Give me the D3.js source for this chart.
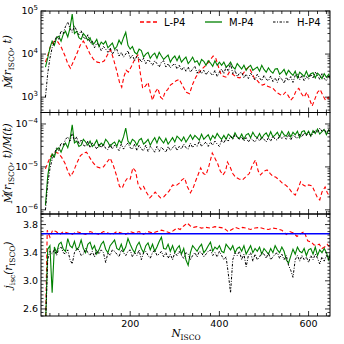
<!DOCTYPE html>
<html>
<head>
<meta charset="utf-8">
<script src="https://cdn.jsdelivr.net/npm/d3@7"></script>
<style>
  html, body { margin: 0; padding: 0; background: #fff; }
  svg { display: block; }
  .tick-label { font-family: 'DejaVu Sans', sans-serif; font-size: 9.5px; fill: #000; }
  .axis-label { font-family: 'DejaVu Serif', serif; font-style: italic; font-size: 10.5px; fill: #000; }
  .legend-label { font-family: 'DejaVu Sans', sans-serif; font-size: 10px; fill: #000; }
</style>
</head>
<body>
<svg id="chart" width="344" height="344"></svg>
<script>
(function() {
    'use strict';

    // sampling grid (N_ISCO) shared by the M-P4 and H-P4 runs
    var nGrid = d3.range(10, 651, 5);

    var mdotM = [5e3, 8e3, 1.4e4, 2.0e4, 1.6e4, 2.4e4, 2.6e4, 2.0e4, 2.9e4, 3.4e4, 2.5e4, 4.0e4, 8.5e4, 3.0e4, 3.4e4, 2.4e4, 2.2e4, 3.0e4, 2.6e4, 2.1e4,
        2.4e4, 1.7e4, 1.8e4, 2.2e4, 1.5e4, 1.9e4, 1.7e4, 2.0e4, 1.4e4, 1.6e4, 1.8e4, 1.3e4, 1.5e4, 2.1e4, 1.7e4, 2.4e4, 3.2e4, 1.6e4, 1.3e4, 1.5e4,
        1.1e4, 1.0e4, 1.3e4, 1.2e4, 8.5e3, 1.0e4, 1.1e4, 8.0e3, 9.5e3, 1.05e4, 8.0e3, 1.1e4, 9.0e3, 7.5e3, 8.5e3, 9.5e3, 6.5e3, 8.0e3, 9.0e3, 7.0e3,
        9.0e3, 6.5e3, 7.5e3, 8.5e3, 6.0e3, 7.0e3, 8.5e3, 6.5e3, 7.0e3, 5.5e3, 7.5e3, 6.8e3, 5.5e3, 7.0e3, 6.2e3, 5.2e3, 7.0e3, 5.5e3, 6.5e3, 5.5e3,
        6.5e3, 5.0e3, 5.5e3, 6.5e3, 5.0e3, 4.5e3, 6.0e3, 5.2e3, 4.5e3, 5.5e3, 4.2e3, 5.0e3, 5.5e3, 4.2e3, 4.6e3, 5.0e3, 4.0e3, 5.5e3, 4.4e3, 3.8e3,
        4.8e3, 4.0e3, 3.6e3, 4.5e3, 4.6e3, 3.4e3, 3.8e3, 4.4e3, 3.3e3, 4.2e3, 3.6e3, 3.2e3, 4.0e3, 2.8e3, 3.8e3, 3.4e3, 3.0e3, 4.0e3, 3.0e3, 3.5e3,
        3.7e3, 2.8e3, 3.6e3, 3.2e3, 2.7e3, 3.5e3, 2.9e3, 3.4e3, 2.5e3];

    var mdotH = [1.0e3, 3.5e3, 8e3, 1.4e4, 1.9e4, 2.6e4, 2.2e4, 3.5e4, 3.0e4, 4.4e4, 5.5e4, 4.0e4, 3.2e4, 4.5e4, 3.5e4, 2.8e4, 3.5e4, 2.5e4, 2.2e4, 2.8e4,
        1.8e4, 2.0e4, 1.4e4, 1.8e4, 1.6e4, 1.2e4, 1.5e4, 1.3e4, 1.1e4, 1.4e4, 1.0e4, 1.2e4, 1.3e4, 9.0e3, 1.1e4, 8.5e3, 1.0e4, 1.2e4, 8.0e3, 9.5e3,
        7.0e3, 9.0e3, 8.0e3, 6.5e3, 8.0e3, 6.0e3, 7.5e3, 6.5e3, 5.5e3, 7.0e3, 6.0e3, 5.0e3, 6.5e3, 7.0e3, 5.0e3, 6.0e3, 4.8e3, 5.5e3, 6.0e3, 4.5e3,
        5.5e3, 4.2e3, 5.0e3, 4.0e3, 5.0e3, 3.8e3, 4.5e3, 5.2e3, 3.6e3, 4.4e3, 3.5e3, 4.2e3, 3.3e3, 4.0e3, 3.6e3, 3.2e3, 4.2e3, 3.0e3, 3.8e3, 4.5e3,
        3.5e3, 5.0e3, 4.0e3, 6.0e3, 3.5e3, 4.2e3, 3.0e3, 3.6e3, 3.8e3, 2.8e3, 3.4e3, 2.7e3, 3.6e3, 3.0e3, 2.5e3, 3.4e3, 2.8e3, 2.4e3, 3.2e3, 2.6e3,
        2.4e3, 3.1e3, 2.3e3, 2.8e3, 2.2e3, 3.0e3, 2.6e3, 2.1e3, 2.9e3, 2.4e3, 3.0e3, 2.2e3, 3.2e3, 3.4e3, 2.5e3, 3.2e3, 2.4e3, 3.0e3, 2.6e3, 3.4e3,
        2.8e3, 3.8e3, 3.2e3, 2.6e3, 3.5e3, 2.7e3, 2.4e3, 3.1e3, 2.4e3];

    var mdotLN = [10, 16, 22, 30, 38, 46, 54, 60, 66, 72, 80, 88, 95, 102, 110, 118, 126, 134, 142, 150, 156, 162, 170, 176, 181, 186, 191, 196, 202, 210,
        217, 222, 228, 234, 240, 245, 250, 256, 262, 268, 273, 278, 284, 290, 296, 303, 310, 318, 326, 333, 340, 347, 355, 362, 370, 378, 386, 392, 398, 404,
        410, 416, 422, 430, 438, 446, 454, 460, 466, 472, 478, 484, 490, 496, 502, 508, 514, 520, 528, 536, 542, 548, 554, 560, 566, 572, 578, 584, 590, 596,
        602, 608, 614, 620, 626, 632, 638, 644, 648];
    var mdotL = [6.5e3, 1.0e4, 1.6e4, 2.0e4, 1.9e4, 1.4e4, 9e3, 6e3, 4.7e3, 6.5e3, 1.0e4, 1.6e4, 2.0e4, 1.5e4, 1.0e4, 7.5e3, 6.5e3, 6.2e3, 7e3, 1.0e4,
        1.25e4, 8e3, 4.0e3, 2.2e3, 1.7e3, 3.0e3, 4.2e3, 3.8e3, 5.0e3, 7.5e3, 9.5e3, 4.0e3, 1.6e3, 1.8e3, 2.2e3, 1.3e3, 850, 1.3e3, 1.6e3, 1.0e3,
        900, 1.3e3, 1.5e3, 1.9e3, 2.1e3, 2.4e3, 2.6e3, 1.8e3, 1.3e3, 1.2e3, 2.0e3, 2.9e3, 3.8e3, 4.6e3, 5.5e3, 7.0e3, 9.0e3, 8.0e3, 5.0e3, 3.3e3,
        3.0e3, 2.9e3, 3.8e3, 3.4e3, 2.9e3, 2.8e3, 3.6e3, 4.5e3, 5.0e3, 3.8e3, 2.8e3, 2.5e3, 2.1e3, 1.9e3, 2.0e3, 1.8e3, 1.7e3, 1.6e3, 1.3e3, 1.15e3,
        1.1e3, 1.3e3, 1.1e3, 850, 1.0e3, 1.4e3, 1.6e3, 1.2e3, 1.0e3, 1.3e3, 900, 620, 900, 1.3e3, 1.5e3, 1.1e3, 850, 1.0e3, 800];

    var ratioM = [1.3e-6, 6e-6, 1.3e-5, 2.0e-5, 1.7e-5, 2.6e-5, 2.8e-5, 2.2e-5, 3.0e-5, 3.6e-5, 2.8e-5, 4.4e-5, 9.5e-5, 3.6e-5, 4.0e-5, 3.0e-5, 3.2e-5, 4.4e-5, 3.8e-5, 3.2e-5,
        4.0e-5, 3.0e-5, 3.4e-5, 4.2e-5, 3.0e-5, 3.6e-5, 3.2e-5, 4.4e-5, 3.8e-5, 3.0e-5, 3.5e-5, 3.8e-5, 3.0e-5, 4.2e-5, 3.6e-5, 5.0e-5, 8.0e-5, 4.0e-5, 3.4e-5, 4.4e-5,
        4.0e-5, 3.2e-5, 4.2e-5, 4.6e-5, 3.4e-5, 3.8e-5, 4.4e-5, 3.2e-5, 4.0e-5, 4.8e-5, 3.6e-5, 5.0e-5, 4.2e-5, 3.6e-5, 4.6e-5, 3.4e-5, 4.0e-5, 4.8e-5, 3.8e-5, 5.2e-5,
        4.6e-5, 4.0e-5, 5.0e-5, 3.8e-5, 4.6e-5, 5.6e-5, 4.4e-5, 5.4e-5, 4.8e-5, 4.2e-5, 5.8e-5, 4.4e-5, 5.0e-5, 5.6e-5, 4.2e-5, 5.4e-5, 4.6e-5, 6.0e-5, 5.0e-5, 4.4e-5,
        5.4e-5, 4.4e-5, 5.8e-5, 5.2e-5, 4.6e-5, 6.2e-5, 5.0e-5, 4.6e-5, 5.8e-5, 4.4e-5, 5.6e-5, 6.0e-5, 4.8e-5, 6.4e-5, 5.2e-5, 4.8e-5, 6.0e-5, 4.6e-5, 5.6e-5, 6.2e-5,
        5.0e-5, 6.6e-5, 5.0e-5, 5.6e-5, 6.4e-5, 5.0e-5, 6.8e-5, 5.6e-5, 5.2e-5, 6.6e-5, 5.0e-5, 6.4e-5, 5.6e-5, 6.8e-5, 4.8e-5, 6.6e-5, 7.0e-5, 5.6e-5, 6.8e-5, 5.2e-5,
        7.0e-5, 6.0e-5, 7.6e-5, 5.8e-5, 6.6e-5, 7.4e-5, 5.6e-5, 7.2e-5, 6.4e-5];

    var ratioH = [1.0e-6, 4e-6, 9e-6, 1.5e-5, 2.0e-5, 2.8e-5, 2.4e-5, 3.6e-5, 3.2e-5, 4.4e-5, 5.0e-5, 4.0e-5, 6.0e-5, 4.0e-5, 5.0e-5, 3.4e-5, 4.2e-5, 3.2e-5, 3.0e-5, 4.0e-5,
        2.8e-5, 3.6e-5, 3.2e-5, 2.6e-5, 3.4e-5, 2.8e-5, 3.4e-5, 2.7e-5, 2.5e-5, 3.4e-5, 2.6e-5, 3.2e-5, 2.8e-5, 2.4e-5, 3.4e-5, 2.6e-5, 3.2e-5, 3.6e-5, 2.8e-5, 2.6e-5,
        3.4e-5, 2.4e-5, 3.2e-5, 2.6e-5, 2.4e-5, 3.2e-5, 2.3e-5, 3.0e-5, 2.6e-5, 2.2e-5, 3.0e-5, 2.3e-5, 2.9e-5, 2.5e-5, 2.2e-5, 3.0e-5, 2.4e-5, 2.8e-5, 3.2e-5, 2.4e-5,
        3.0e-5, 2.6e-5, 3.4e-5, 2.8e-5, 2.6e-5, 3.6e-5, 2.8e-5, 3.4e-5, 3.0e-5, 4.0e-5, 3.0e-5, 3.4e-5, 3.8e-5, 3.0e-5, 3.8e-5, 3.2e-5, 4.0e-5, 3.4e-5, 3.0e-5, 4.2e-5,
        3.6e-5, 4.6e-5, 4.0e-5, 5.2e-5, 4.4e-5, 5.6e-5, 4.8e-5, 4.4e-5, 5.0e-5, 4.0e-5, 4.8e-5, 3.8e-5, 4.6e-5, 4.2e-5, 3.8e-5, 4.8e-5, 4.0e-5, 5.0e-5, 4.4e-5, 3.8e-5,
        4.8e-5, 4.0e-5, 5.2e-5, 4.4e-5, 4.2e-5, 5.4e-5, 4.6e-5, 5.2e-5, 4.4e-5, 5.6e-5, 4.2e-5, 5.4e-5, 5.0e-5, 4.6e-5, 5.8e-5, 5.0e-5, 6.2e-5, 5.4e-5, 6.4e-5, 5.2e-5,
        6.0e-5, 7.2e-5, 6.4e-5, 8.0e-5, 6.8e-5, 7.6e-5, 6.2e-5, 7.4e-5, 6.6e-5];

    var ratioLN = [10, 16, 22, 30, 38, 46, 54, 60, 66, 72, 80, 88, 95, 102, 110, 118, 126, 132, 140, 148, 155, 162, 170, 176, 182, 188, 194, 200, 206, 212,
        218, 224, 230, 236, 244, 250, 256, 262, 268, 275, 282, 288, 295, 302, 310, 316, 322, 328, 335, 341, 346, 352, 358, 364, 370, 376, 384, 390, 396, 402,
        408, 414, 418, 424, 430, 436, 444, 452, 460, 467, 474, 481, 487, 492, 500, 507, 514, 520, 526, 534, 541, 548, 556, 562, 570, 576, 582, 588, 594, 600,
        608, 614, 620, 625, 630, 637, 642, 648];
    var ratioL = [9e-6, 1.3e-5, 1.8e-5, 2.2e-5, 2.1e-5, 1.7e-5, 1.2e-5, 8e-6, 6.0e-6, 7.5e-6, 1.2e-5, 1.8e-5, 2.1e-5, 2.2e-5, 1.6e-5, 1.2e-5, 1.0e-5, 9.5e-6, 1.0e-5, 1.3e-5,
        1.6e-5, 1.1e-5, 6e-6, 3.5e-6, 3.2e-6, 4.5e-6, 5.5e-6, 5.2e-6, 9.5e-6, 8e-6, 3.8e-6, 3.0e-6, 3.5e-6, 2.6e-6, 1.9e-6, 2.2e-6, 2.6e-6, 2.2e-6, 1.9e-6, 2.0e-6,
        2.4e-6, 2.8e-6, 3.8e-6, 3.6e-6, 4.2e-6, 5.0e-6, 5.5e-6, 3.5e-6, 2.5e-6, 3.2e-6, 4.5e-6, 6.5e-6, 9.5e-6, 7.0e-6, 6.5e-6, 1.0e-5, 2.1e-5, 1.6e-5, 1.2e-5, 8e-6,
        6.5e-6, 8e-6, 1.3e-5, 1.0e-5, 7e-6, 5.8e-6, 5.2e-6, 5.0e-6, 6.0e-6, 7e-6, 1.1e-5, 1.45e-5, 8e-6, 6.5e-6, 8e-6, 8.5e-6, 7e-6, 6e-6, 5.8e-6, 5e-6,
        4.2e-6, 3.8e-6, 3.2e-6, 2.6e-6, 2.2e-6, 3.0e-6, 4.5e-6, 3.8e-6, 3.5e-6, 3.8e-6, 3.6e-6, 2.6e-6, 1.9e-6, 1.7e-6, 2.6e-6, 3.4e-6, 2.5e-6, 2.0e-6];

    var jM = [2.3, 3.45, 3.50, 2.83, 3.48, 3.40, 3.52, 3.55, 3.45, 3.42, 3.60, 3.50, 3.47, 3.56, 3.44, 3.48, 3.58, 3.46, 3.40, 3.52,
        3.55, 3.45, 3.50, 3.38, 3.44, 3.52, 3.56, 3.45, 3.40, 3.50, 3.54, 3.58, 3.46, 3.44, 3.52, 3.42, 3.48, 3.60, 3.52, 3.45,
        3.40, 3.50, 3.55, 3.46, 3.40, 3.50, 3.54, 3.44, 3.52, 3.42, 3.48, 3.56, 3.62, 3.46, 3.45, 3.52, 3.42, 3.50, 3.40, 3.46,
        3.50, 3.38, 3.46, 3.30, 3.22, 3.40, 3.50, 3.46, 3.42, 3.48, 3.52, 3.40, 3.44, 3.50, 3.55, 3.42, 3.48, 3.45, 3.50, 3.42,
        3.40, 3.52, 3.48, 3.44, 3.50, 3.40, 3.46, 3.48, 3.42, 3.50, 3.38, 3.44, 3.50, 3.40, 3.46, 3.42, 3.48, 3.38, 3.46, 3.42,
        3.38, 3.46, 3.40, 3.50, 3.44, 3.40, 3.48, 3.42, 3.30, 3.25, 3.35, 3.45, 3.38, 3.48, 3.42, 3.40, 3.46, 3.36, 3.44, 3.46,
        3.38, 3.48, 3.36, 3.44, 3.40, 3.46, 3.40, 3.30, 3.42];

    var jH = [2.3, 3.30, 3.42, 3.38, 3.45, 3.36, 3.46, 3.48, 3.40, 3.38, 3.44, 3.30, 3.24, 3.40, 3.46, 3.44, 3.36, 3.38, 3.46, 3.40,
        3.36, 3.42, 3.34, 3.44, 3.38, 3.44, 3.40, 3.26, 3.40, 3.36, 3.44, 3.42, 3.38, 3.34, 3.44, 3.40, 3.36, 3.42, 3.44, 3.34,
        3.40, 3.36, 3.44, 3.30, 3.40, 3.42, 3.36, 3.32, 3.40, 3.44, 3.36, 3.38, 3.42, 3.34, 3.40, 3.32, 3.38, 3.30, 3.40, 3.36,
        3.42, 3.36, 3.32, 3.40, 3.38, 3.30, 3.36, 3.40, 3.34, 3.42, 3.40, 3.34, 3.38, 3.42, 3.44, 3.36, 3.40, 3.34, 3.42, 3.36,
        3.30, 3.34, 3.10, 2.83, 3.30, 3.40, 3.36, 3.42, 3.30, 3.38, 3.20, 3.36, 3.40, 3.28, 3.38, 3.30, 3.34, 3.40, 3.38, 3.32,
        3.40, 3.30, 3.34, 3.38, 3.40, 3.32, 3.38, 3.30, 3.36, 3.22, 3.15, 3.05, 3.30, 3.36, 3.28, 3.36, 3.30, 3.34, 3.26, 3.36,
        3.30, 3.38, 3.32, 3.24, 3.34, 3.28, 3.36, 3.30, 3.38];

    var jLN = [10, 14, 20, 26, 34, 42, 50, 60, 70, 80, 90, 100, 110, 120, 130, 140, 150, 160, 170, 180, 190, 200, 210, 220, 230, 240, 250, 260, 270, 280,
        290, 298, 305, 312, 320, 328, 335, 342, 350, 360, 370, 380, 390, 400, 410, 420, 428, 436, 444, 452, 460, 470, 480, 490, 500, 510, 520, 530, 540, 550,
        558, 566, 574, 582, 590, 598, 606, 612, 618, 624, 630, 636, 642, 648];
    var jL = [2.3, 3.72, 3.62, 3.72, 3.70, 3.66, 3.70, 3.68, 3.66, 3.70, 3.68, 3.66, 3.70, 3.68, 3.66, 3.70, 3.68, 3.66, 3.70, 3.68,
        3.66, 3.70, 3.68, 3.70, 3.66, 3.70, 3.68, 3.70, 3.72, 3.70, 3.68, 3.72, 3.75, 3.73, 3.78, 3.82, 3.78, 3.76, 3.77, 3.75,
        3.76, 3.75, 3.77, 3.76, 3.75, 3.70, 3.73, 3.76, 3.74, 3.76, 3.75, 3.73, 3.75, 3.76, 3.74, 3.73, 3.75, 3.74, 3.72, 3.66,
        3.70, 3.68, 3.63, 3.67, 3.70, 3.57, 3.55, 3.51, 3.51, 3.52, 3.46, 3.48, 3.52, 3.47];

    var jIsco = 3.67;

    var seriesNames = ['L-P4', 'M-P4', 'H-P4'];
    var xTicks = [200, 400, 600];
    var yTicksTop = [1e3, 1e4, 1e5];
    var yTicksMid = [1e-6, 1e-5, 1e-4];
    var yTicksBottom = [2.6, 3.0, 3.4, 3.8];

    var styles = {
        'L-P4': { color: '#ff0000', dash: '4,2.5', width: 1.1 },
        'M-P4': { color: '#008000', dash: null, width: 1.1 },
        'H-P4': { color: '#000000', dash: '2.5,1.5,1,1.5', width: 1 }
    };

    var left = 41, right = 330;
    var svg = d3.select('#chart');

    var x = d3.scaleLinear().domain([0, 648]).range([left, right]);

    // 'D' marks an M with a dot over it (mass accretion rate)
    var panels = [
        {
            top: 11, bottom: 112.5,
            y: d3.scaleLog().domain([440, 1e5]),
            ticks: yTicksTop, log: true,
            lines: [[mdotLN, mdotL, 'L-P4'], [nGrid, mdotM, 'M-P4'], [nGrid, mdotH, 'H-P4']],
            label: [['M', 'D'], ['(r', 0], ['ISCO', 1], [', t)', 0]]
        },
        {
            top: 112.5, bottom: 214,
            y: d3.scaleLog().domain([8e-7, 1.85e-4]),
            ticks: yTicksMid, log: true,
            lines: [[ratioLN, ratioL, 'L-P4'], [nGrid, ratioM, 'M-P4'], [nGrid, ratioH, 'H-P4']],
            label: [['M', 'D'], ['(r', 0], ['ISCO', 1], [', t)/M(t)', 0]]
        },
        {
            top: 214, bottom: 316,
            y: d3.scaleLinear().domain([2.5, 3.95]),
            ticks: yTicksBottom, log: false,
            lines: [[jLN, jL, 'L-P4'], [nGrid, jM, 'M-P4'], [nGrid, jH, 'H-P4']],
            label: [['j', 0], ['isc', 1], ['(r', 0], ['ISCO', 1], [')', 0]]
        }
    ];

    // label made of italic runs and small upright subscripts
    function richText(sel, parts) {
        var down = false;
        parts.forEach(function(p) {
            var t = sel.append('tspan').text(p[0]);
            if (p[1] === 'D') {
                sel.append('tspan').attr('dx', -7).attr('dy', -1).text('\u02D9');
                sel.append('tspan').attr('dx', 1.8).attr('dy', 1).text('');
            } else if (p[1] && !down) {
                t.attr('dy', 3).style('font-size', '7.5px').style('font-style', 'normal'); down = true;
            } else if (p[1]) {
                t.style('font-size', '7.5px').style('font-style', 'normal');
            } else if (down) {
                t.attr('dy', -3); down = false;
            }
        });
    }

    panels.forEach(function(p, idx) {
        p.y.range([p.bottom, p.top]);
        var g = svg.append('g');
        var clipId = 'clip' + idx;

        svg.append('clipPath').attr('id', clipId)
            .append('rect')
            .attr('x', left).attr('y', p.top)
            .attr('width', right - left).attr('height', p.bottom - p.top);

        var plot = g.append('g').attr('clip-path', 'url(#' + clipId + ')');

        p.lines.forEach(function(l) {
            var st = styles[l[2]];
            var pts = l[0].map(function(n, i) { return [n, l[1][i]]; });
            plot.append('path')
                .datum(pts)
                .attr('fill', 'none')
                .attr('stroke', st.color)
                .attr('stroke-width', st.width)
                .attr('stroke-dasharray', st.dash)
                .attr('d', d3.line()
                    .x(function(d) { return x(d[0]); })
                    .y(function(d) { return p.y(d[1]); }));
        });

        if (idx === 2) {
            plot.append('line')
                .attr('x1', left).attr('x2', right)
                .attr('y1', p.y(jIsco)).attr('y2', p.y(jIsco))
                .attr('stroke', '#0000ff').attr('stroke-width', 1.6);
        }

        // x ticks, inward on both edges
        var xMinor = d3.range(20, 648, 20);
        xMinor.forEach(function(v) {
            var major = xTicks.indexOf(v) >= 0;
            var len = major ? 5 : 3;
            g.append('line').attr('x1', x(v)).attr('x2', x(v))
                .attr('y1', p.bottom).attr('y2', p.bottom - len)
                .attr('stroke', '#000').attr('stroke-width', 0.8);
            g.append('line').attr('x1', x(v)).attr('x2', x(v))
                .attr('y1', p.top).attr('y2', p.top + len)
                .attr('stroke', '#000').attr('stroke-width', 0.8);
        });

        // y ticks
        var dom = p.y.domain();
        var yMinor = [];
        if (p.log) {
            for (var e = Math.floor(Math.log10(dom[0])); e <= Math.ceil(Math.log10(dom[1])); e++) {
                for (var m = 1; m < 10; m++) yMinor.push([m * Math.pow(10, e), m === 1]);
            }
        } else {
            d3.range(2.5, 3.96, 0.05).forEach(function(v) {
                var r = Math.round(v * 100) / 100;
                yMinor.push([r, yTicksBottom.some(function(t) { return Math.abs(t - r) < 1e-6; })]);
            });
        }
        yMinor.forEach(function(t) {
            var v = t[0];
            if (v < dom[0] * 0.999 || v > dom[1] * 1.001) return;
            var yy = p.y(v);
            var len = t[1] ? 5 : 2.5;
            g.append('line').attr('x1', left).attr('x2', left + len)
                .attr('y1', yy).attr('y2', yy).attr('stroke', '#000').attr('stroke-width', 0.8);
            g.append('line').attr('x1', right).attr('x2', right - len)
                .attr('y1', yy).attr('y2', yy).attr('stroke', '#000').attr('stroke-width', 0.8);
        });

        p.ticks.forEach(function(v) {
            var lab = g.append('text')
                .attr('class', 'tick-label')
                .attr('x', left - 3)
                .attr('y', p.y(v))
                .attr('dy', '0.35em')
                .attr('text-anchor', 'end');
            if (p.log) {
                lab.append('tspan').text('10');
                lab.append('tspan').attr('dy', -4).style('font-size', '7px')
                    .text(String(Math.round(Math.log10(v))).replace('-', '\u2212'));
            } else {
                lab.text(d3.format('.1f')(v));
            }
        });

        g.append('rect')
            .attr('x', left).attr('y', p.top)
            .attr('width', right - left).attr('height', p.bottom - p.top)
            .attr('fill', 'none').attr('stroke', '#000').attr('stroke-width', 1);

        var cy = (p.top + p.bottom) / 2;
        var yl = g.append('text')
            .attr('class', 'axis-label')
            .attr('text-anchor', 'middle')
            .attr('transform', 'translate(12,' + cy + ') rotate(-90)');
        richText(yl, p.label);

        if (idx === 2) {
            xTicks.forEach(function(v) {
                g.append('text').attr('class', 'tick-label')
                    .attr('x', x(v)).attr('y', p.bottom + 11)
                    .attr('text-anchor', 'middle').text(v);
            });
        }
    });

    var xl = svg.append('text')
        .attr('class', 'axis-label')
        .attr('x', 186).attr('y', 337)
        .attr('text-anchor', 'middle');
    richText(xl, [['N', 0], ['ISCO', 1]]);

    // legend
    var legendX = [140, 205, 273];
    var legend = svg.append('g');
    seriesNames.forEach(function(name, i) {
        var st = styles[name];
        legend.append('line')
            .attr('x1', legendX[i]).attr('x2', legendX[i] + 17)
            .attr('y1', 22).attr('y2', 22)
            .attr('stroke', st.color).attr('stroke-width', st.width + 0.2)
            .attr('stroke-dasharray', st.dash);
        legend.append('text')
            .attr('class', 'legend-label')
            .attr('x', legendX[i] + 24).attr('y', 22)
            .attr('dy', '0.35em')
            .text(name);
    });
})();
</script>
</body>
</html>
